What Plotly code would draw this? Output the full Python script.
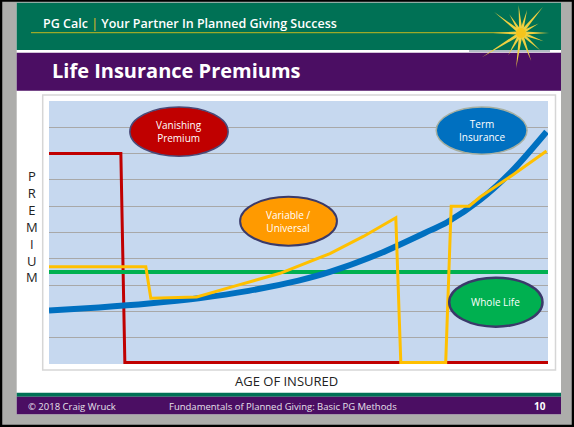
import math
import plotly.graph_objects as go

# chart values (x = age position 0-100, y = premium 0-10)
red_x = [0, 14.4, 15.2, 100]
red_y = [8, 8, 0.06, 0.06]

green_x = [0, 100]
green_y = [3.5, 3.5]

blue_x = [0, 10, 20, 30, 40, 50, 56.3, 66.3, 76.4, 79.7, 86.4, 93, 99.7]
blue_y = [2.03, 2.15, 2.3, 2.5, 2.78, 3.17, 3.5, 4.2, 5.08, 5.38, 6.24, 7.38, 8.83]

yellow_x = [0, 19.4, 20.4, 29.6, 37, 46.3, 56.3, 63, 69.5, 70.5, 79.5, 80.6, 84.2, 86.4, 93, 99.7]
yellow_y = [3.7, 3.7, 2.5, 2.55, 2.95, 3.45, 4.2, 4.85, 5.56, 0.06, 0.06, 6.0, 6.0, 6.35, 7.2, 8.1]

labels = ["Vanishing<br>Premium", "Term<br>Insurance", "Variable /<br>Universal", "Whole Life"]
W, H = 574, 427
L, R, T, B = 49, 548, 101, 364


def px(x):
    return (x - L) / (R - L)


def py(y):
    return (B - y) / (B - T)


fig = go.Figure()
fig.add_trace(go.Scatter(x=red_x, y=red_y, mode="lines", line=dict(color="#C00000", width=3)))
fig.add_trace(go.Scatter(x=green_x, y=green_y, mode="lines", line=dict(color="#00B050", width=4)))
fig.add_trace(go.Scatter(x=blue_x, y=blue_y, mode="lines", line=dict(color="#0070C0", width=6, shape="spline", smoothing=0.8)))
fig.add_trace(go.Scatter(x=yellow_x, y=yellow_y, mode="lines", line=dict(color="#FFC000", width=3)))

shapes = []


def rect(x0, y0, x1, y1, fill, line=None, lw=0, layer="below"):
    shapes.append(dict(type="rect", xref="paper", yref="paper", x0=px(x0), x1=px(x1),
                       y0=py(y1), y1=py(y0), fillcolor=fill, layer=layer,
                       line=dict(color=line or fill, width=lw)))


# slide frame
rect(16.7, 2.7, 561, 414.3, "white")
rect(16.7, 2.7, 561, 50, "#007155")
rect(16.7, 52.7, 561, 90.7, "#4B0E63")
rect(16.7, 392.7, 561, 396.7, "#007155")
rect(16.7, 396.7, 561, 414.3, "#4B0E63")
rect(42.7, 95, 555.5, 370, "white", "#D6D6D6", 1.5)
rect(L, T, R, B, "#C6D8EF")
# gold line under header text
shapes.append(dict(type="line", xref="paper", yref="paper", x0=px(31), x1=px(515),
                   y0=py(32.7), y1=py(32.7), line=dict(color="#9CA92A", width=1.2)))
shapes.append(dict(type="line", xref="paper", yref="paper", x0=px(469), x1=px(550),
                   y0=py(51), y1=py(51), line=dict(color="#9AA6B0", width=1.5)))

# star
cx, cy = 521, 33
rays = [(0, 28), (28, 20), (50, 34), (75, 24), (95, 28), (122, 22), (142, 34),
        (180, 28), (212, 46), (240, 26), (262, 36), (290, 30), (318, 26), (340, 24)]
for ang, ln in rays:
    a = math.radians(ang)
    tx, ty = cx + ln * math.cos(a), cy - ln * math.sin(a)
    bx, by = 1.8 * -math.sin(a), 1.8 * -math.cos(a)
    path = "M {:.4f},{:.4f} L {:.4f},{:.4f} L {:.4f},{:.4f} Z".format(
        px(cx + bx), py(cy + by), px(tx), py(ty), px(cx - bx), py(cy - by))
    shapes.append(dict(type="path", xref="paper", yref="paper", path=path,
                       fillcolor="#F0D040", line=dict(width=0), layer="above"))
shapes.append(dict(type="circle", xref="paper", yref="paper", x0=px(cx - 5), x1=px(cx + 5),
                   y0=py(cy + 5), y1=py(cy - 5), fillcolor="#F6C51C", line=dict(width=0), layer="above"))

# outer black border
shapes.append(dict(type="rect", xref="paper", yref="paper", x0=px(1), x1=px(573),
                   y0=py(426), y1=py(0.5), line=dict(color="black", width=2.5), layer="above"))

# ellipses
ell = [((16.2, 7.9, 35.9, 9.77), "#C00000", "#4A4A78", 1.5),
       ((77.6, 7.98, 95.8, 9.77), "#0070C0", "#A6AFA0", 1.5),
       ((38.3, 4.5, 57.7, 6.36), "#FF9A00", "#3A3A6A", 2),
       ((80.2, 1.42, 98.9, 3.28), "#00B050", "#3A3A6A", 2.5)]
annotations = []
for (x0, y0, x1, y1), fill, lc, lw in ell:
    shapes.append(dict(type="circle", xref="x", yref="y", x0=x0, x1=x1, y0=y0, y1=y1,
                       fillcolor=fill, line=dict(color=lc, width=lw), layer="above"))
for ((x0, y0, x1, y1), _, _, _), txt in zip(ell, labels):
    annotations.append(dict(x=(x0 + x1) / 2, y=(y0 + y1) / 2, xref="x", yref="y", text=txt,
                            showarrow=False, font=dict(family="Open Sans", size=10, color="white")))


def note(x, y, text, size, color, xanchor="center", weight="normal", family="Open Sans"):
    annotations.append(dict(x=px(x), y=py(y), xref="paper", yref="paper", text=text,
                            showarrow=False, xanchor=xanchor, yanchor="middle",
                            font=dict(family=family, size=size, color=color, weight=weight)))


note(41, 23.5, "PG Calc <span style='color:#C0B030'>|</span> Your Partner In Planned Giving Success",
     12.5, "white", "left", 600)
note(50, 70.5, "Life Insurance Premiums", 20, "white", "left", "bold")
note(31.7, 226, "P<br>R<br>E<br>M<br>I<br>U<br>M", 13, "#222222")
note(286, 381, "AGE OF INSURED", 13, "#222222")
note(26, 406.5, "© 2018 Craig Wruck", 9.5, "#E6E0EA", "left")
note(283, 406, "Fundamentals of Planned Giving: Basic PG Methods", 9.5, "#E6E0EA")
note(539.5, 405.7, "10", 10, "white", "center", "bold")

fig.update_layout(
    width=W, height=H, autosize=False, showlegend=False,
    margin=dict(l=L, r=W - R, t=T, b=H - B, pad=0),
    paper_bgcolor="#ADADAB", plot_bgcolor="rgba(0,0,0,0)",
    shapes=shapes, annotations=annotations,
    xaxis=dict(range=[0, 100], showgrid=False, zeroline=False, showticklabels=False, fixedrange=True),
    yaxis=dict(range=[0, 10], dtick=1, showgrid=True, gridcolor="#A8A8A8", gridwidth=1,
               zeroline=False, showticklabels=False, fixedrange=True),
)
fig.write_html("out.html", config={"displayModeBar": False},
               post_script="document.body.style.margin='0';")
